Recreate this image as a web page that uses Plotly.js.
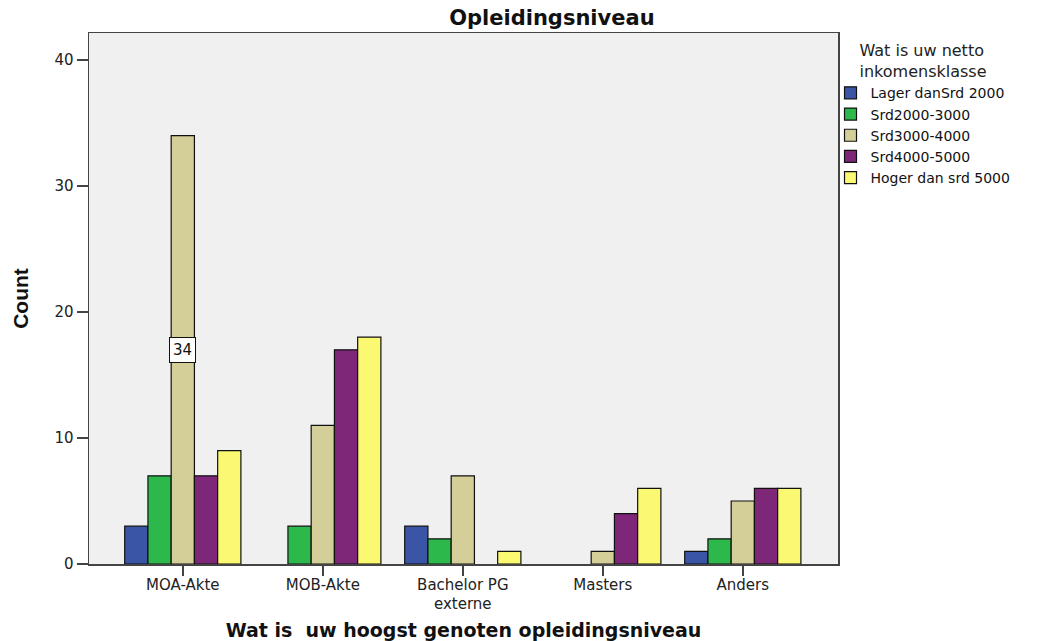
<!DOCTYPE html>
<html>
<head>
<meta charset="utf-8">
<script src="https://cdn.plot.ly/plotly-3.0.1.min.js"></script>
<style>html,body{margin:0;padding:0;background:#fff;}#chart{width:1044px;height:641px;}</style>
</head>
<body>
<div id="chart"></div>
<script>
const categories = ["MOA-Akte", "MOB-Akte", "Bachelor PG<br>externe", "Masters", "Anders"];
const seriesNames = ["Lager danSrd 2000", "Srd2000-3000", "Srd3000-4000", "Srd4000-5000", "Hoger dan srd 5000"];
// null = no bar drawn for that category (empty cell)
const lagerDan2000 = [3, null, 3, null, 1];
const srd2000_3000 = [7, 3, 2, null, 2];
const srd3000_4000 = [34, 11, 7, 1, 5];
const srd4000_5000 = [7, 17, null, 4, 6];
const hogerDan5000 = [9, 18, 1, 6, 6];
const seriesValues = [lagerDan2000, srd2000_3000, srd3000_4000, srd4000_5000, hogerDan5000];
const seriesColors = ["#3a55a6", "#2db84b", "#d4cf98", "#7e2778", "#fbf871"];
const yTicks = [0, 10, 20, 30, 40];

const font = "DejaVu Sans, Verdana, sans-serif";
const traces = seriesNames.map((name, i) => ({
  type: "bar",
  name: name,
  x: categories,
  y: seriesValues[i],
  marker: {color: seriesColors[i], line: {color: "#111", width: 1.2}},
  hoverinfo: "x+y+name"
}));

const layout = {
  width: 1044, height: 641,
  margin: {l: 89, r: 206, t: 33, b: 77},
  paper_bgcolor: "#ffffff",
  plot_bgcolor: "#f0f0f0",
  barmode: "group",
  bargap: 0.17,
  bargroupgap: 0,
  font: {family: font, size: 14, color: "#222"},
  title: {text: "<b>Opleidingsniveau</b>", font: {family: font, size: 21, color: "#111"},
          x: 0.618, xanchor: "center", xref: "paper", y: 0.972, yanchor: "middle"},
  xaxis: {
    range: [-0.67, 4.68],
    showline: true, linecolor: "#444", linewidth: 1.5, mirror: true,
    ticks: "outside", ticklen: 10, tickcolor: "#444", tickwidth: 1.5,
    ticklabelstandoff: -4,
    tickfont: {family: font, size: 15, color: "#222"},
    showgrid: false, zeroline: false, fixedrange: true,
    title: {text: "<b>Wat is  uw hoogst genoten opleidingsniveau</b>", font: {family: font, size: 19, color: "#111"}, standoff: 14}
  },
  yaxis: {
    range: [0, 42.14],
    tickvals: yTicks,
    showline: true, linecolor: "#444", linewidth: 1.5, mirror: true,
    ticks: "outside", ticklen: 11, tickcolor: "#444", tickwidth: 1.5,
    tickfont: {family: font, size: 15, color: "#222"},
    showgrid: false, zeroline: false, fixedrange: true,
    title: {text: "<b>Count</b>", font: {family: "Liberation Sans Narrow, Liberation Sans, Arial, sans-serif", size: 21, color: "#111"}, standoff: 20}
  },
  legend: {
    x: 0.99, xanchor: "left", y: 0.995, yanchor: "top",
    bgcolor: "rgba(0,0,0,0)",
    font: {family: font, size: 14, color: "#111"},
    title: {text: "Wat is uw netto<br>inkomensklasse", side: "top center", font: {family: font, size: 16, color: "#222"}},
    tracegroupgap: 0, itemwidth: 30
  },
  annotations: [{
    x: 0, y: srd3000_4000[0] / 2, xref: "x", yref: "y",
    text: String(srd3000_4000[0]), showarrow: false,
    font: {family: font, size: 15, color: "#111"},
    bgcolor: "#ffffff", bordercolor: "#111", borderwidth: 1, borderpad: 3
  }]
};

Plotly.newPlot("chart", traces, layout, {displayModeBar: false, staticPlot: true});
</script>
</body>
</html>
